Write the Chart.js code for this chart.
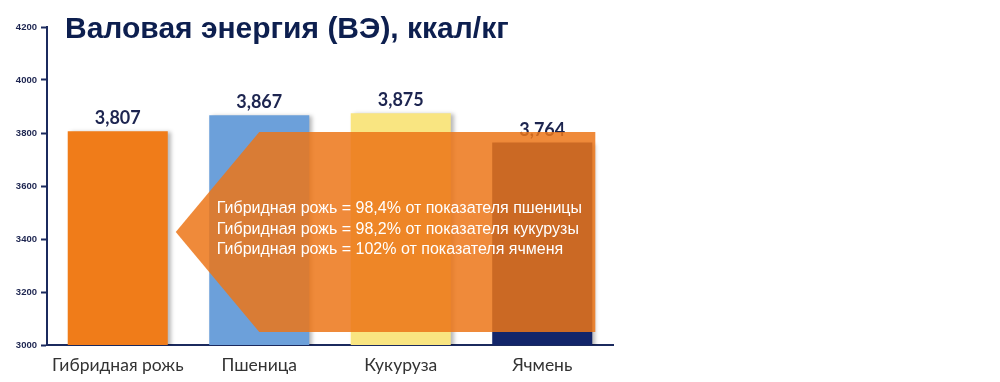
<!DOCTYPE html>
<html>
<head>
<meta charset="utf-8">
<script src="https://cdn.jsdelivr.net/npm/chart.js@4.4.1/dist/chart.umd.min.js"></script>
<style>
  html, body { margin: 0; padding: 0; background: #fff; }
  #wrap { position: relative; width: 1000px; height: 382px; }
  #title { position: absolute; left: 65px; top: 13px; margin: 0; font: bold 30px/30px "Liberation Sans", Arial, sans-serif; color: #0d1f4f; white-space: nowrap; }
</style>
</head>
<body>
<div id="wrap">
  <canvas id="c" width="1000" height="382"></canvas>
  <h1 id="title">Валовая энергия (ВЭ), ккал/кг</h1>
</div>
<script>
const categories = ['Гибридная рожь', 'Пшеница', 'Кукуруза', 'Ячмень'];
const values = [3807, 3867, 3875, 3764];
const barColors = ['#F07C19', '#6CA0DA', '#F9E581', '#12256A'];
const yTicks = [3000, 3200, 3400, 3600, 3800, 4000, 4200];
const calloutLines = [
  'Гибридная рожь = 98,4% от показателя пшеницы',
  'Гибридная рожь = 98,2% от показателя кукурузы',
  'Гибридная рожь = 102% от показателя ячменя'
];

const navy = '#1b2a5e';

const barShadow = {
  id: 'barShadow',
  beforeDatasetsDraw(chart) {
    const ctx = chart.ctx;
    ctx.save();
    ctx.shadowColor = 'rgba(0,0,0,0.28)';
    ctx.shadowOffsetX = 3;
    ctx.shadowOffsetY = 1;
    ctx.shadowBlur = 4;
  },
  afterDatasetsDraw(chart) {
    chart.ctx.restore();
  }
};

const valueLabels = {
  id: 'valueLabels',
  afterDatasetsDraw(chart) {
    const ctx = chart.ctx;
    const meta = chart.getDatasetMeta(0);
    ctx.save();
    ctx.font = 'bold 18px Lato, "Liberation Sans", sans-serif';
    ctx.fillStyle = '#1d2550';
    ctx.textAlign = 'center';
    ctx.textBaseline = 'alphabetic';
    meta.data.forEach((bar, i) => {
      ctx.fillText(values[i].toLocaleString('en-US'), bar.x, bar.y - 7);
    });
    ctx.restore();
  }
};

const callout = {
  id: 'callout',
  afterDraw(chart) {
    const ctx = chart.ctx;
    const xs = chart.scales.x, ys = chart.scales.y;
    const step = xs.getPixelForValue(1) - xs.getPixelForValue(0);
    const x0 = xs.getPixelForValue(0);
    const tipX = x0 + 0.41 * step;
    const bodyL = x0 + 1.0 * step;
    const bodyR = x0 + 3.375 * step;
    const top = ys.getPixelForValue(3804);
    const bot = ys.getPixelForValue(3049);
    const mid = (top + bot) / 2;
    ctx.save();
    ctx.fillStyle = 'rgba(236,118,24,0.85)';
    ctx.beginPath();
    ctx.moveTo(tipX, mid);
    ctx.lineTo(bodyL, top);
    ctx.lineTo(bodyR, top);
    ctx.lineTo(bodyR, bot);
    ctx.lineTo(bodyL, bot);
    ctx.closePath();
    ctx.fill();
    ctx.fillStyle = '#ffffff';
    ctx.font = '16px "Liberation Sans", Arial, sans-serif';
    ctx.textAlign = 'left';
    ctx.textBaseline = 'middle';
    const tx = x0 + 0.70 * step;
    calloutLines.forEach((t, i) => {
      ctx.fillText(t, tx, ys.getPixelForValue(3513) + i * 20.5);
    });
    ctx.restore();
  }
};

new Chart(document.getElementById('c'), {
  type: 'bar',
  data: {
    labels: categories,
    datasets: [{
      data: values,
      backgroundColor: barColors,
      borderWidth: 0,
      categoryPercentage: 1.0,
      barPercentage: 0.707
    }]
  },
  options: {
    responsive: false,
    animation: false,
    events: [],
    layout: { padding: { left: 0, top: 27, right: 387, bottom: 0 } },
    plugins: { legend: { display: false }, tooltip: { enabled: false }, title: { display: false } },
    scales: {
      x: {
        grid: { display: false, drawTicks: false },
        border: { display: true, color: navy, width: 2 },
        ticks: { color: '#333333', font: { family: 'Lato, "Liberation Sans", sans-serif', size: 17.5 }, padding: 10, maxRotation: 0 },
        afterFit(s) { s.height = 37; }
      },
      y: {
        min: 3000,
        max: 4200,
        afterBuildTicks(s) { s.ticks = yTicks.map(v => ({ value: v })); },
        grid: { display: true, drawOnChartArea: false, drawTicks: true, tickLength: 6, color: navy, tickWidth: 2 },
        border: { display: true, color: navy, width: 2 },
        ticks: { color: '#1d2550', font: { family: '"Liberation Sans", Arial, sans-serif', size: 9.5, weight: 'bold' }, padding: 4, callback: v => String(v) },
        afterFit(s) { s.width = 47; }
      }
    }
  },
  plugins: [barShadow, valueLabels, callout]
});
</script>
</body>
</html>
